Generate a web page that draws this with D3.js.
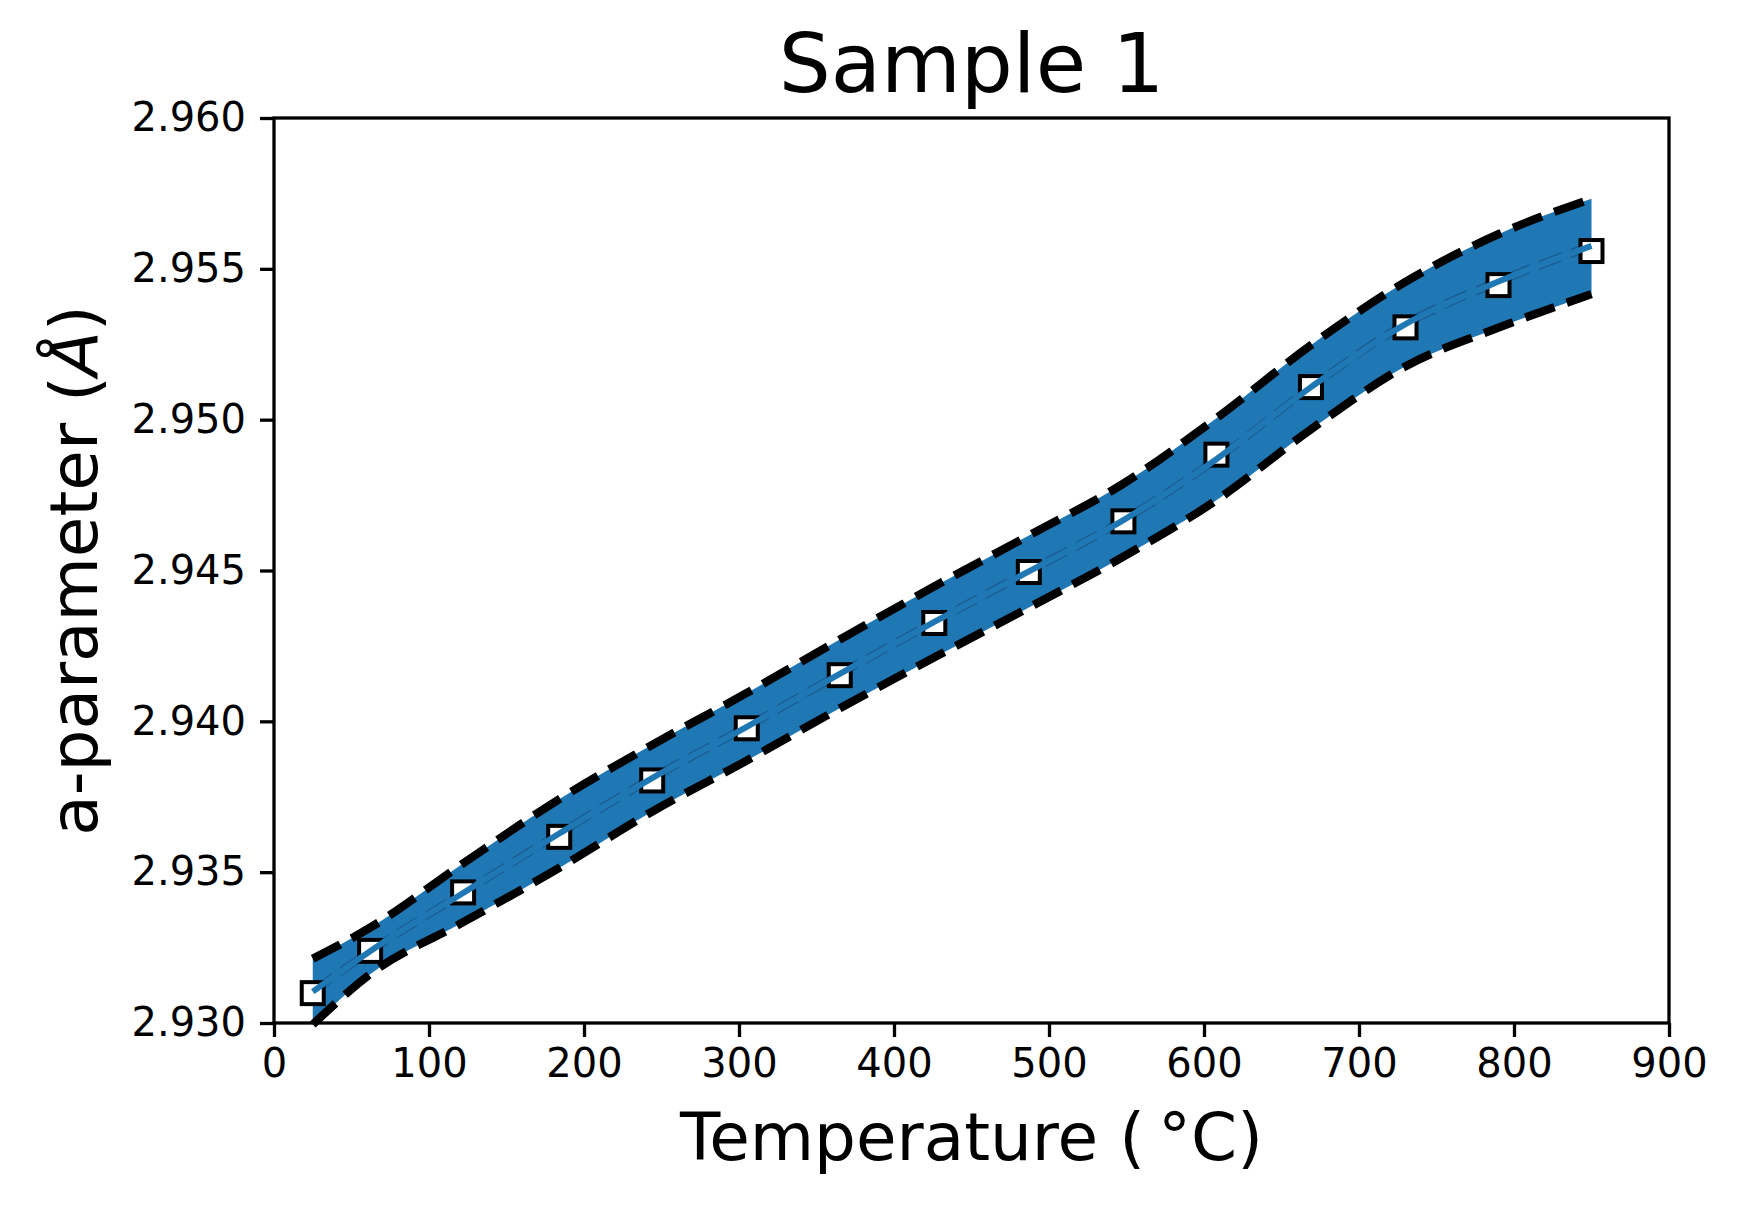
<!DOCTYPE html>
<html>
<head>
<meta charset="utf-8">
<script src="https://cdn.jsdelivr.net/npm/d3@7"></script>
<style>
  body { margin: 0; background: #fff; }
  svg { font-family: "DejaVu Sans", sans-serif; }
</style>
</head>
<body>
<div id="chart"></div>
<script>
// measured lattice parameter with fit and error envelope
const temps = [25, 62, 122, 184, 244, 305, 365, 426, 487, 548, 608, 669, 730, 790, 850];
const aParam = [2.93099, 2.93239, 2.93433, 2.93617, 2.93804, 2.93977, 2.94153, 2.94326,
                2.94495, 2.94663, 2.94884, 2.95108, 2.95306, 2.95446, 2.95559];
const fitLine = [2.93104, 2.93238, 2.93431, 2.93628, 2.93812, 2.93982, 2.94157, 2.94330,
                 2.94497, 2.94667, 2.94869, 2.95108, 2.95317, 2.95458, 2.95576];
const innerUpper = [2.93117, 2.93251, 2.93444, 2.93641, 2.93825, 2.93995, 2.94170, 2.94343,
                    2.94510, 2.94680, 2.94882, 2.95121, 2.95330, 2.95471, 2.95589];
const innerLower = [2.93091, 2.93225, 2.93418, 2.93615, 2.93799, 2.93969, 2.94144, 2.94317,
                    2.94484, 2.94654, 2.94856, 2.95095, 2.95304, 2.95445, 2.95563];
const upperBound = [2.93213, 2.93316, 2.93529, 2.93742, 2.93922, 2.94094, 2.94271, 2.94447,
                    2.94616, 2.94788, 2.95005, 2.95247, 2.95457, 2.95615, 2.95732];
const lowerBound = [2.92995, 2.93162, 2.93334, 2.93514, 2.93701, 2.93870, 2.94043, 2.94212,
                    2.94377, 2.94546, 2.94733, 2.94968, 2.95177, 2.95305, 2.95416];
const xTicks = [0, 100, 200, 300, 400, 500, 600, 700, 800, 900];
const yTicks = [2.930, 2.935, 2.940, 2.945, 2.950, 2.955, 2.960];

const width = 1738, height = 1208;
const margin = {top: 118, right: 69, bottom: 185, left: 274};
const innerW = width - margin.left - margin.right,
    innerH = height - margin.top - margin.bottom;
const blue = "#1f77b4";

const svg = d3.select("#chart")
    .append("svg")
    .attr("width", width)
    .attr("height", height);

const g = svg.append("g")
    .attr("transform", "translate(" + margin.left + "," + margin.top + ")");

const x = d3.scaleLinear().domain([0, 900]).range([0, innerW]);
const y = d3.scaleLinear().domain([2.930, 2.960]).range([innerH, 0]);

const pts = arr => temps.map((t, i) => ({t: t, v: arr[i]}));
const curve = d3.curveMonotoneX;

// envelope
const area = d3.area()
    .x(d => x(d.t))
    .y0(d => y(d.lo))
    .y1(d => y(d.hi))
    .curve(curve);
g.append("path")
    .datum(temps.map((t, i) => ({t: t, lo: lowerBound[i], hi: upperBound[i]})))
    .attr("d", area)
    .attr("fill", blue);

const line = d3.line()
    .x(d => x(d.t))
    .y(d => y(d.v))
    .curve(curve);

// black dashed bounds
[upperBound, lowerBound].forEach(arr => {
    g.append("path")
        .datum(pts(arr))
        .attr("d", line)
        .attr("fill", "none")
        .attr("stroke", "#000")
        .attr("stroke-width", 8.3)
        .attr("stroke-dasharray", "31,13");
});

// thin inner dashed lines
[innerUpper, innerLower].forEach(arr => {
    g.append("path")
        .datum(pts(arr))
        .attr("d", line)
        .attr("fill", "none")
        .attr("stroke", "#1a5a8a")
        .attr("stroke-width", 1.4)
        .attr("stroke-dasharray", "24,10");
});

// markers
const sq = 22;
g.selectAll("rect.pt")
    .data(pts(aParam))
    .enter()
    .append("rect")
    .attr("class", "pt")
    .attr("x", d => x(d.t) - sq / 2)
    .attr("y", d => y(d.v) - sq / 2)
    .attr("width", sq)
    .attr("height", sq)
    .attr("fill", "#fff")
    .attr("stroke", "#000")
    .attr("stroke-width", 4);

// fit line
g.append("path")
    .datum(pts(fitLine))
    .attr("d", line)
    .attr("fill", "none")
    .attr("stroke", blue)
    .attr("stroke-width", 6);

// axes
const xAxis = g.append("g")
    .attr("transform", "translate(0," + innerH + ")")
    .call(d3.axisBottom(x).tickValues(xTicks).tickSize(14).tickSizeOuter(0).tickPadding(12)
        .tickFormat(d3.format("d")));
const yAxis = g.append("g")
    .call(d3.axisLeft(y).tickValues(yTicks).tickSize(14).tickSizeOuter(0).tickPadding(14)
        .tickFormat(d3.format(".3f")));

[xAxis, yAxis].forEach(ax => {
    ax.select(".domain").remove();
    ax.selectAll(".tick line").attr("stroke", "#000").attr("stroke-width", 3.3);
    ax.selectAll(".tick text")
        .attr("fill", "#000")
        .style("font-size", "40px")
        .style("font-family", "DejaVu Sans");
});

g.append("rect")
    .attr("width", innerW)
    .attr("height", innerH)
    .attr("fill", "none")
    .attr("stroke", "#000")
    .attr("stroke-width", 3.3);

// labels
svg.append("text")
    .attr("x", margin.left + innerW / 2)
    .attr("y", 92)
    .attr("text-anchor", "middle")
    .style("font-size", "82px")
    .text("Sample 1");

svg.append("text")
    .attr("x", margin.left + innerW / 2)
    .attr("y", 1160)
    .attr("text-anchor", "middle")
    .style("font-size", "66px")
    .text("Temperature (\u2009\u00B0C)");

const yl = svg.append("text")
    .attr("transform", "translate(97," + (margin.top + innerH / 2) + ") rotate(-90)")
    .attr("text-anchor", "middle")
    .style("font-size", "66px");
yl.append("tspan").text("a-parameter (");
yl.append("tspan").style("font-style", "italic").text("\u00C5");
yl.append("tspan").text(")");
</script>
</body>
</html>
